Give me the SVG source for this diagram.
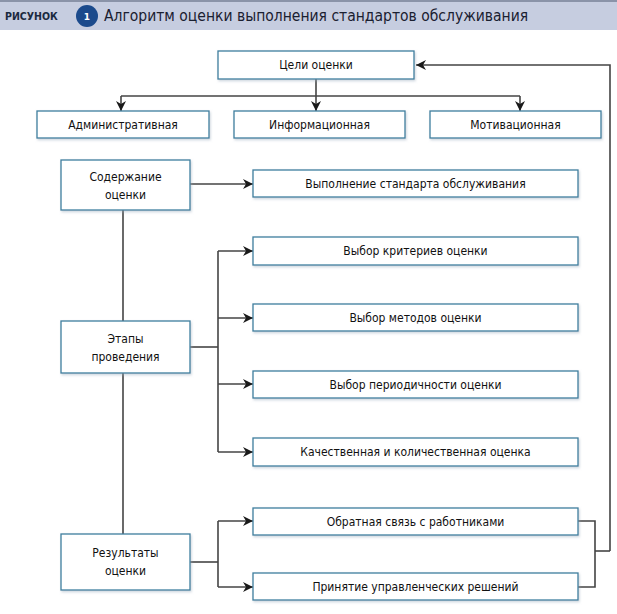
<svg xmlns="http://www.w3.org/2000/svg" width="617" height="614" viewBox="0 0 617 614">
<defs>
<marker id="ah" viewBox="0 0 10 10" refX="10" refY="5" markerWidth="15" markerHeight="10" markerUnits="userSpaceOnUse" orient="auto">
<path d="M0,0 L10,5 L0,10 L3,5 Z" fill="#1a1a1a"/>
</marker>
<filter id="sh" x="-5%" y="-10%" width="110%" height="130%">
<feDropShadow dx="1" dy="1.5" stdDeviation="1" flood-color="#9ab" flood-opacity="0.5"/>
</filter>
</defs>
<style>
.box{fill:#fff;stroke:#3d7e9e;stroke-width:1.3;filter:url(#sh)}
.t{font-family:"DejaVu Sans Condensed","DejaVu Sans",sans-serif;font-size:12px;fill:#111;text-anchor:middle}
.ln{fill:none;stroke:#444;stroke-width:1.6}
.ar{fill:none;stroke:#444;stroke-width:1.6;marker-end:url(#ah)}
</style>
<rect x="0" y="0" width="617" height="614" fill="#fff"/>
<g id="header">
<rect x="0" y="0" width="617" height="30" fill="#c6cde0"/>
<rect x="0" y="0" width="617" height="2" fill="#8a93a8"/>
<text x="5" y="20" font-family="DejaVu Sans Condensed,DejaVu Sans,sans-serif" font-size="10.5" font-weight="bold" fill="#1a2a40">РИСУНОК</text>
<circle cx="87" cy="16" r="11" fill="#1b4a8c"/>
<text x="87" y="20" font-family="DejaVu Sans,sans-serif" font-size="9" font-weight="bold" fill="#fff" text-anchor="middle">1</text>
<text x="104" y="21" font-family="DejaVu Sans Condensed,DejaVu Sans,sans-serif" font-size="15.5" fill="#1a2030">Алгоритм оценки выполнения стандартов обслуживания</text>
</g>
<g id="connectors">
<path class="ar" d="M610,551 V65 H416"/>
<path class="ln" d="M316,79 V96"/>
<path class="ln" d="M121,96 H520"/>
<path class="ar" d="M121,96 V111"/>
<path class="ar" d="M316,96 V111"/>
<path class="ar" d="M520,96 V111"/>
<path class="ar" d="M190,184 H253"/>
<path class="ln" d="M123,210 V321"/>
<path class="ln" d="M123,373 V534"/>
<path class="ln" d="M190,347 H218"/>
<path class="ln" d="M218,251 V452"/>
<path class="ar" d="M218,251 H253"/>
<path class="ar" d="M218,318 H253"/>
<path class="ar" d="M218,384 H253"/>
<path class="ar" d="M218,452 H253"/>
<path class="ln" d="M190,562 H218"/>
<path class="ln" d="M218,521 V587"/>
<path class="ar" d="M218,521 H253"/>
<path class="ar" d="M218,587 H253"/>
<path class="ln" d="M578,521 H595 V587 H578"/>
<path class="ln" d="M595,551 H610"/>
</g>
<g id="n-goals"><rect class="box" x="218" y="51" width="196" height="28"/><text class="t" x="316" y="69">Цели оценки</text></g>
<g id="n-admin"><rect class="box" x="37" y="111" width="172" height="27"/><text class="t" x="123" y="129">Административная</text></g>
<g id="n-info"><rect class="box" x="234" y="111" width="171" height="27"/><text class="t" x="319.5" y="129">Информационная</text></g>
<g id="n-motiv"><rect class="box" x="430" y="111" width="171" height="27"/><text class="t" x="515.5" y="129">Мотивационная</text></g>
<g id="n-content"><rect class="box" x="61" y="160" width="129" height="50"/><text class="t" x="125.5" y="181">Содержание</text><text class="t" x="125.5" y="199">оценки</text></g>
<g id="n-perf"><rect class="box" x="253" y="170" width="325" height="27"/><text class="t" x="415.5" y="188">Выполнение стандарта обслуживания</text></g>
<g id="n-stages"><rect class="box" x="61" y="321" width="129" height="52"/><text class="t" x="125.5" y="343">Этапы</text><text class="t" x="125.5" y="361">проведения</text></g>
<g id="n-crit"><rect class="box" x="253" y="237" width="325" height="28"/><text class="t" x="415.5" y="255">Выбор критериев оценки</text></g>
<g id="n-meth"><rect class="box" x="253" y="304" width="325" height="27"/><text class="t" x="415.5" y="322">Выбор методов оценки</text></g>
<g id="n-period"><rect class="box" x="253" y="371" width="325" height="27"/><text class="t" x="415.5" y="389">Выбор периодичности оценки</text></g>
<g id="n-qual"><rect class="box" x="253" y="438" width="325" height="28"/><text class="t" x="415.5" y="456">Качественная и количественная оценка</text></g>
<g id="n-results"><rect class="box" x="61" y="534" width="129" height="56"/><text class="t" x="125.5" y="557">Результаты</text><text class="t" x="125.5" y="575">оценки</text></g>
<g id="n-feedback"><rect class="box" x="253" y="508" width="325" height="27"/><text class="t" x="415.5" y="526">Обратная связь с работниками</text></g>
<g id="n-decisions"><rect class="box" x="253" y="573" width="325" height="27"/><text class="t" x="415.5" y="591">Принятие управленческих решений</text></g>
</svg>
